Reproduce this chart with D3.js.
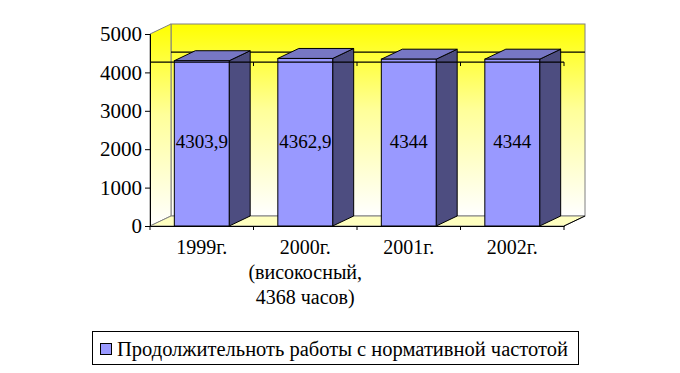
<!DOCTYPE html>
<html>
<head>
<meta charset="utf-8">
<script src="https://cdn.jsdelivr.net/npm/d3@7"></script>
<style>
  body { margin: 0; background: #fff; }
</style>
</head>
<body>
<script>
// data
var categories = ["1999г.", "2000г.", "2001г.", "2002г."];
var subLabels = [[], ["(високосный,", "4368 часов)"], [], []];
var values = [4303.9, 4362.9, 4344, 4344];
var valueLabels = ["4303,9", "4362,9", "4344", "4344"];
var yTicks = [0, 1000, 2000, 3000, 4000, 5000];
var refValue = 4270;
var seriesName = "Продолжительноть работы с нормативной частотой";

var width = 680, height = 373;
var dx = 21, dy = -10;                 // depth offset of the 3d box
var font = "'Liberation Serif', 'Times New Roman', serif";
var fs = "20px";

var x = d3.scaleBand().domain(categories).range([150, 564]);
var y = d3.scaleLinear().domain([0, 5000]).range([226, 34]);
var barW = x.bandwidth() * 0.53;

var svg = d3.select("body").append("svg")
    .attr("width", width)
    .attr("height", height);

var defs = svg.append("defs");
var grad = defs.append("linearGradient").attr("id", "wallGrad")
    .attr("x1", 0).attr("y1", 0).attr("x2", 0).attr("y2", 1);
grad.append("stop").attr("offset", "0%").attr("stop-color", "#ffff00");
grad.append("stop").attr("offset", "45%").attr("stop-color", "#ffff9a");
grad.append("stop").attr("offset", "100%").attr("stop-color", "#ffffff");

var x0 = x.range()[0], x1 = x.range()[1];
var yTop = y(5000), yBot = y(0);

function pts(a) { return a.map(function(p){ return p[0] + "," + p[1]; }).join(" "); }

// back wall
svg.append("rect")
    .attr("x", x0 + dx).attr("y", yTop + dy)
    .attr("width", x1 - x0).attr("height", yBot - yTop)
    .attr("fill", "url(#wallGrad)")
    .attr("stroke", "#808080").attr("stroke-width", 1);

// side wall
svg.append("polygon")
    .attr("points", pts([[x0, yTop], [x0 + dx, yTop + dy], [x0 + dx, yBot + dy], [x0, yBot]]))
    .attr("fill", "url(#wallGrad)")
    .attr("stroke", "#808080").attr("stroke-width", 1);

// floor
svg.append("polygon")
    .attr("points", pts([[x0, yBot], [x0 + dx, yBot + dy], [x1 + dx, yBot + dy], [x1, yBot]]))
    .attr("fill", "#ffffc0")
    .attr("stroke", "#808080").attr("stroke-width", 1);
svg.append("line")
    .attr("x1", x1).attr("y1", yBot).attr("x2", x1 + dx).attr("y2", yBot + dy)
    .attr("stroke", "#000");

// back reference line
svg.append("line")
    .attr("x1", x0 + dx).attr("x2", x1 + dx)
    .attr("y1", y(refValue) + dy).attr("y2", y(refValue) + dy)
    .attr("stroke", "#000").attr("stroke-width", 1.2);

// bars
var bars = svg.selectAll(".bar").data(values).enter().append("g").attr("class", "bar");
bars.each(function(d, i) {
    var g = d3.select(this);
    var bx = x(categories[i]) + (x.bandwidth() - barW) / 2;
    var top = y(d), bot = y(0);
    g.append("polygon")
        .attr("points", pts([[bx + barW, top], [bx + barW + dx, top + dy], [bx + barW + dx, bot + dy], [bx + barW, bot]]))
        .attr("fill", "#4d4d80").attr("stroke", "#000").attr("stroke-width", 1);
    g.append("polygon")
        .attr("points", pts([[bx, top], [bx + dx, top + dy], [bx + barW + dx, top + dy], [bx + barW, top]]))
        .attr("fill", "#7777c4").attr("stroke", "#000").attr("stroke-width", 1);
    g.append("rect")
        .attr("x", bx).attr("y", top).attr("width", barW).attr("height", bot - top)
        .attr("fill", "#9999ff").attr("stroke", "#000").attr("stroke-width", 1);
    g.append("text")
        .attr("x", bx + barW / 2).attr("y", 148)
        .attr("text-anchor", "middle")
        .style("font-family", font).style("font-size", "19px")
        .text(valueLabels[i]);
});

// front reference line with ticks
svg.append("line")
    .attr("x1", x0).attr("x2", x1)
    .attr("y1", y(refValue)).attr("y2", y(refValue))
    .attr("stroke", "#000").attr("stroke-width", 1.2);
svg.selectAll(".refTick").data(categories).enter().append("line")
    .attr("x1", function(d){ return x(d) + x.bandwidth(); })
    .attr("x2", function(d){ return x(d) + x.bandwidth(); })
    .attr("y1", y(refValue)).attr("y2", y(refValue) + 4)
    .attr("stroke", "#000");

// y axis
var yAxis = d3.axisLeft(y).tickValues(yTicks).tickSize(5).tickPadding(3).tickFormat(d3.format("d"));
var gy = svg.append("g").attr("transform", "translate(" + x0 + ",0)").call(yAxis);
gy.select(".domain").attr("stroke", "#000");
gy.selectAll("text").style("font-size", "21px").style("font-family", font).attr("fill", "#000");

// x axis
var xAxis = d3.axisBottom(x).tickSize(0).tickFormat("");
var gx = svg.append("g").attr("transform", "translate(0," + yBot + ")").call(xAxis);
gx.select(".domain").attr("stroke", "#000");
svg.selectAll(".xTick").data([categories[0]].concat(categories)).enter().append("line")
    .attr("x1", function(d, i){ return i === 0 ? x0 : x(d) + x.bandwidth(); })
    .attr("x2", function(d, i){ return i === 0 ? x0 : x(d) + x.bandwidth(); })
    .attr("y1", yBot).attr("y2", yBot + 4)
    .attr("stroke", "#000");

var xl = svg.selectAll(".xlab").data(categories).enter().append("text")
    .attr("x", function(d){ return x(d) + x.bandwidth() / 2; })
    .attr("y", 254)
    .attr("text-anchor", "middle")
    .style("font-family", font).style("font-size", fs);
xl.each(function(d, i) {
    var t = d3.select(this);
    t.append("tspan").attr("x", x(d) + x.bandwidth() / 2).text(d);
    subLabels[i].forEach(function(s) {
        t.append("tspan").attr("x", x(d) + x.bandwidth() / 2).attr("dy", 25).text(s);
    });
});

// legend
var lg = svg.append("g");
lg.append("rect").attr("x", 92.5).attr("y", 331.5).attr("width", 486).attr("height", 33)
    .attr("fill", "#fff").attr("stroke", "#000");
lg.append("rect").attr("x", 100.5).attr("y", 343.5).attr("width", 11).attr("height", 11)
    .attr("fill", "#9999ff").attr("stroke", "#000");
lg.append("text").attr("x", 117).attr("y", 356)
    .style("font-family", font).style("font-size", "20.5px")
    .text(seriesName);
</script>
</body>
</html>
